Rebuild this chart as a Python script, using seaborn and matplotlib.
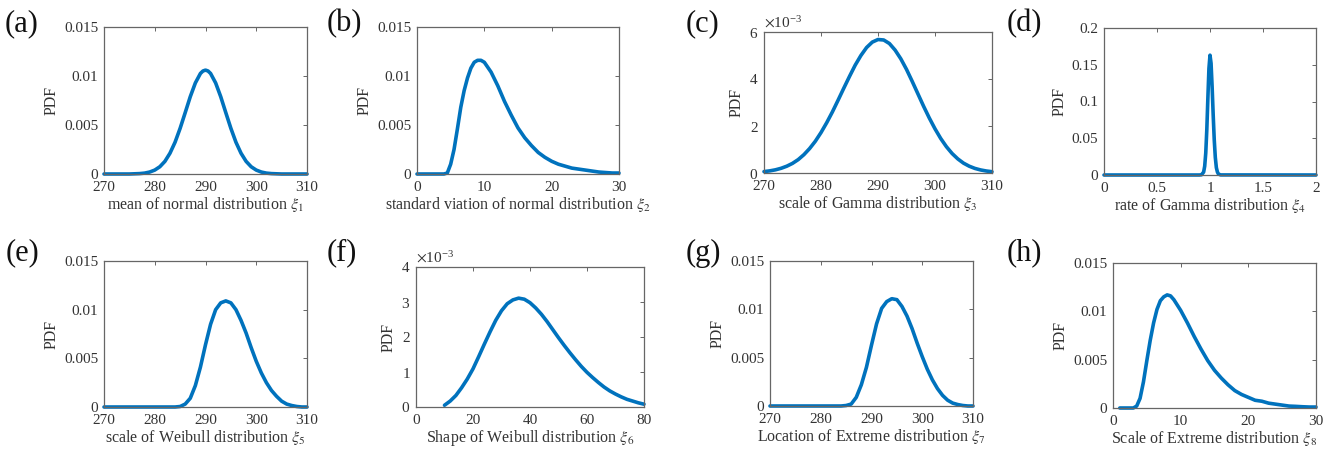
import matplotlib
matplotlib.use("Agg")
import matplotlib.pyplot as plt
import seaborn as sns
from matplotlib.ticker import FuncFormatter

# ---------------------------------------------------------------- data
# (a) mean of normal distribution
a_x = [270, 275, 276, 277, 278, 279, 280, 281, 282, 283, 284, 285, 286, 287, 288, 289,
       289.5, 290, 290.5, 291, 292, 293, 294, 295, 296, 297, 298, 299, 300, 301, 302,
       303, 304, 305, 310]
a_y = [0, 0, 0.00002, 0.00004, 0.00009, 0.0002, 0.0004, 0.00074, 0.00129, 0.00212,
       0.00324, 0.00466, 0.00626, 0.00789, 0.00929, 0.01026, 0.01051, 0.0106, 0.01051,
       0.01026, 0.00929, 0.00789, 0.00626, 0.00466, 0.00324, 0.00212, 0.00129, 0.00074,
       0.0004, 0.0002, 0.00009, 0.00004, 0.00002, 0, 0]

# (b) standard deviation of normal distribution
b_x = [0, 4, 4.5, 5, 5.5, 6, 6.5, 7, 7.5, 8, 8.5, 9, 9.5, 10, 11, 12, 13, 14, 15, 16,
       17, 18, 19, 20, 21, 22, 23, 24, 25, 26, 27, 28, 29, 30]
b_y = [0, 0, 0.0001, 0.0010, 0.0025, 0.0046, 0.0068, 0.0085, 0.0098, 0.0108, 0.0114,
       0.0116, 0.0116, 0.0114, 0.0104, 0.0090, 0.0074, 0.0060, 0.0047, 0.0037, 0.0029,
       0.0022, 0.0017, 0.0013, 0.0010, 0.0008, 0.0006, 0.0005, 0.0004, 0.0003, 0.0002,
       0.00015, 0.0001, 0.0001]

# (c) scale of Gamma distribution
c_x = [270, 271, 272, 273, 274, 275, 276, 277, 278, 279, 280, 281, 282, 283, 284, 285,
       286, 287, 288, 289, 290, 291, 292, 293, 294, 295, 296, 297, 298, 299, 300, 301,
       302, 303, 304, 305, 306, 307, 308, 309, 310]
c_y = [0.060e-3, 0.090e-3, 0.135e-3, 0.200e-3, 0.290e-3, 0.410e-3, 0.570e-3, 0.780e-3,
       1.040e-3, 1.350e-3, 1.720e-3, 2.140e-3, 2.600e-3, 3.100e-3, 3.610e-3, 4.110e-3,
       4.590e-3, 5.000e-3, 5.340e-3, 5.570e-3, 5.680e-3, 5.660e-3, 5.510e-3, 5.230e-3,
       4.860e-3, 4.410e-3, 3.900e-3, 3.370e-3, 2.840e-3, 2.340e-3, 1.880e-3, 1.470e-3,
       1.120e-3, 0.830e-3, 0.600e-3, 0.420e-3, 0.290e-3, 0.195e-3, 0.130e-3, 0.085e-3,
       0.055e-3]

# (d) rate of Gamma distribution
d_x = [0, 0.9, 0.92, 0.94, 0.95, 0.96, 0.97, 0.98, 0.99, 1.0, 1.01, 1.02, 1.03, 1.04,
       1.05, 1.06, 1.07, 1.08, 1.1, 2.0]
d_y = [0, 0, 0.0003, 0.004, 0.012, 0.030, 0.062, 0.105, 0.145, 0.163, 0.152, 0.120,
       0.082, 0.048, 0.024, 0.010, 0.004, 0.0013, 0.0001, 0]

# (e) scale of Weibull distribution
e_x = [270, 284, 285, 286, 287, 288, 289, 290, 291, 292, 293, 294, 295, 296, 297, 298,
       299, 300, 301, 302, 303, 304, 305, 306, 307, 308, 309, 310]
e_y = [0, 0, 0.00005, 0.0003, 0.0009, 0.0022, 0.0041, 0.0064, 0.0085, 0.0100, 0.0107,
       0.0109, 0.0107, 0.0100, 0.0089, 0.0076, 0.0061, 0.0047, 0.0035, 0.0025, 0.0017,
       0.0011, 0.0006, 0.0003, 0.00015, 0.00005, 0, 0]

# (f) shape of Weibull distribution
f_x = [10, 12, 14, 16, 18, 20, 22, 24, 26, 28, 30, 32, 34, 36, 38, 40, 42, 44, 46, 48,
       50, 52, 54, 56, 58, 60, 62, 64, 66, 68, 70, 72, 74, 76, 78, 80]
f_y = [0.05e-3, 0.17e-3, 0.33e-3, 0.55e-3, 0.80e-3, 1.09e-3, 1.44e-3, 1.80e-3, 2.15e-3,
       2.48e-3, 2.75e-3, 2.95e-3, 3.06e-3, 3.11e-3, 3.08e-3, 2.98e-3, 2.83e-3, 2.65e-3,
       2.44e-3, 2.21e-3, 1.98e-3, 1.76e-3, 1.55e-3, 1.35e-3, 1.16e-3, 0.99e-3, 0.84e-3,
       0.70e-3, 0.57e-3, 0.46e-3, 0.37e-3, 0.29e-3, 0.22e-3, 0.17e-3, 0.12e-3, 0.08e-3]

# (g) location of Extreme distribution
g_x = [270, 284, 285, 286, 287, 288, 289, 290, 291, 292, 293, 294, 295, 296, 297, 298,
       299, 300, 301, 302, 303, 304, 305, 306, 307, 308, 309, 310]
g_y = [0, 0, 0.00005, 0.0002, 0.0009, 0.0022, 0.0040, 0.0063, 0.0085, 0.0101, 0.0108,
       0.0111, 0.0110, 0.0103, 0.0093, 0.0080, 0.0065, 0.0051, 0.0038, 0.0027, 0.0018,
       0.0011, 0.0006, 0.0003, 0.00015, 0.00005, 0, 0]

# (h) scale of Extreme distribution
h_x = [1, 3, 3.5, 4, 4.5, 5, 5.5, 6, 6.5, 7, 7.5, 8, 8.5, 9, 10, 11, 12, 13, 14, 15, 16,
       17, 18, 19, 20, 21, 22, 23, 24, 25, 26, 27, 28, 29, 30]
h_y = [0, 0, 0.0002, 0.0010, 0.0027, 0.0049, 0.0070, 0.0088, 0.0102, 0.0111, 0.0115,
       0.0117, 0.0116, 0.0112, 0.0101, 0.0088, 0.0074, 0.0061, 0.0049, 0.0039, 0.0031,
       0.0024, 0.0018, 0.0014, 0.0011, 0.0008, 0.0007, 0.0005, 0.0004, 0.0003, 0.0002,
       0.00017, 0.00013, 0.0001, 0.0001]

# tick values
ticks_temp = [270, 280, 290, 300, 310]
ticks_std = [0, 10, 20, 30]
ticks_rate = [0, 0.5, 1, 1.5, 2]
ticks_shape = [0, 20, 40, 60, 80]
pdf_ticks = [0, 0.005, 0.01, 0.015]
pdf_ticks_c = [0, 0.002, 0.004, 0.006]
pdf_ticks_d = [0, 0.05, 0.1, 0.15, 0.2]
pdf_ticks_f = [0, 0.001, 0.002, 0.003, 0.004]

labels = ["(a)", "(b)", "(c)", "(d)", "(e)", "(f)", "(g)", "(h)"]
xlabels = [
    r"mean of normal distribution $\xi_1$",
    r"standard viation of normal distribution $\xi_2$",
    r"scale of Gamma distribution $\xi_3$",
    r"rate of Gamma distribution $\xi_4$",
    r"scale of Weibull distribution $\xi_5$",
    r"Shape of Weibull distribution $\xi_6$",
    r"Location of Extreme distribution $\xi_7$",
    r"Scale of Extreme distribution $\xi_8$",
]

# ---------------------------------------------------------------- style
sns.set_style("white")
plt.rcParams["font.family"] = ["Liberation Serif", "DejaVu Serif"]
plt.rcParams["mathtext.fontset"] = "stix"

LINE = "#0072BD"
TEXT = "#333333"
FRAME = "#666666"

W, H = 1337, 459
fig = plt.figure(figsize=(W / 100, H / 100), dpi=100)


def rect(l, t, r, b):
    return [l / W, 1 - b / H, (r - l) / W, (b - t) / H]


panels = [
    # x, y, xticks, yticks, sci, frame (left, top, right, bottom), label pos
    (a_x, a_y, ticks_temp, pdf_ticks, False, (104, 27, 307, 174), (5, 24)),
    (b_x, b_y, ticks_std, pdf_ticks, False, (417, 27, 619, 174), (327, 24)),
    (c_x, c_y, ticks_temp, pdf_ticks_c, True, (764, 32, 992, 173), (686, 24)),
    (d_x, d_y, ticks_rate, pdf_ticks_d, False, (1104, 28, 1316, 175), (1007, 24)),
    (e_x, e_y, ticks_temp, pdf_ticks, False, (104, 261, 307, 407), (6, 253)),
    (f_x, f_y, ticks_shape, pdf_ticks_f, True, (416, 267, 644, 407), (327, 253)),
    (g_x, g_y, ticks_temp, pdf_ticks, False, (770, 261, 973, 406), (686, 253)),
    (h_x, h_y, ticks_std, pdf_ticks, False, (1113, 263, 1316, 408), (1007, 253)),
]

plain = FuncFormatter(lambda v, p: f"{v:g}")

for (xs, ys, xt, yt, sci, box, lab), letter, xl in zip(panels, labels, xlabels):
    ax = fig.add_axes(rect(*box))
    sns.lineplot(x=xs, y=ys, ax=ax, color=LINE, linewidth=2.6, errorbar=None)
    for ln in ax.lines:
        ln.set_clip_on(False)
        ln.set_solid_joinstyle("round")
    ax.set_xticks(xt)
    ax.set_yticks(yt)
    ax.set_xlim(xt[0], xt[-1])
    ax.set_ylim(yt[0], yt[-1])
    ax.xaxis.set_major_formatter(plain)
    if sci:
        ax.ticklabel_format(axis="y", style="sci", scilimits=(-3, -3), useMathText=True)
        off = ax.yaxis.get_offset_text()
        off.set_fontsize(11)
        off.set_color(TEXT)
    else:
        ax.yaxis.set_major_formatter(plain)
    ax.tick_params(direction="in", length=3, width=0.7, top=True, right=True,
                   labelsize=11, labelcolor=TEXT, color=FRAME)
    ax.tick_params(axis="x", pad=5)
    ax.tick_params(axis="y", pad=4)
    for s in ax.spines.values():
        s.set_color(FRAME)
        s.set_linewidth(0.9)
    ax.set_xlabel(xl, fontsize=11.5, color=TEXT, labelpad=1)
    ax.set_ylabel("PDF", fontsize=11.5, color=TEXT, labelpad=3)
    fig.text(lab[0] / W, 1 - lab[1] / H, letter, fontsize=22, color="#111111",
             ha="left", va="center")

fig.savefig("out.png", dpi=100)
